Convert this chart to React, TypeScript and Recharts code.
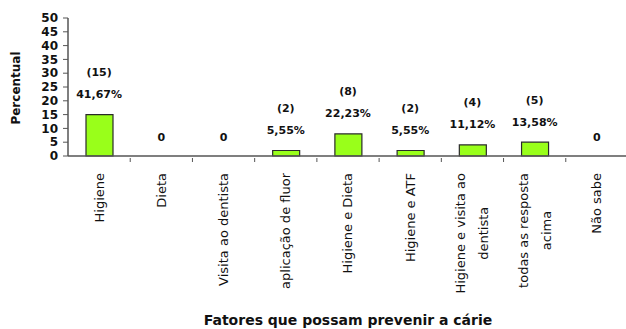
import React from "react";
import { ComposedChart, Bar, Line, XAxis, YAxis, LabelList } from "recharts";

// Categories (tick labels split into lines as they are printed under the axis)
const categories = [
  "Higiene",
  "Dieta",
  "Visita ao dentista",
  "aplicação de fluor",
  "Higiene e Dieta",
  "Higiene e ATF",
  "Higiene e visita ao dentista",
  "todas as resposta acima",
  "Não sabe",
];
const tickLines: string[][] = [
  ["Higiene"],
  ["Dieta"],
  ["Visita ao dentista"],
  ["aplicação de fluor"],
  ["Higiene e Dieta"],
  ["Higiene e ATF"],
  ["Higiene e visita ao", "dentista"],
  ["todas as resposta", "acima"],
  ["Não sabe"],
];
// Number of answers per category
const counts = [15, 0, 0, 2, 8, 2, 4, 5, 0];
// Percent labels printed above each bar
const percents = ["41,67%", "", "", "5,55%", "22,23%", "5,55%", "11,12%", "13,58%", ""];
const yTicks = [0, 5, 10, 15, 20, 25, 30, 35, 40, 45, 50];

const data = categories.map((name, i) => ({
  name,
  count: counts[i],
  pct: percents[i],
}));

const FONT = "'DejaVu Sans', Verdana, sans-serif";
const CHART_W = 628;
const CHART_H = 329;
const MARGIN = { top: 18, right: 0, left: 0, bottom: 0 };
const Y_AXIS_W = 68;
const PLOT_W = CHART_W - MARGIN.left - MARGIN.right - Y_AXIS_W;
const BAND = PLOT_W / categories.length;
const TICK_FONT_SIZE = 13;
const LINE_GAP = 23;

let measureCtx: CanvasRenderingContext2D | null = null;
function textWidth(s: string, size: number): number {
  if (!measureCtx) {
    const c = document.createElement("canvas");
    measureCtx = c.getContext("2d");
  }
  if (!measureCtx) return s.length * size * 0.55;
  measureCtx.font = `${size}px 'DejaVu Sans'`;
  return measureCtx.measureText(s).width;
}

// Vertical category label, centred lines, with a small tick mark at the band edge
const CategoryTick = (props: any) => {
  const { x, y, payload, index } = props;
  const lines: string[] = tickLines[index] ?? [String(payload.value)];
  const top = y + 9;
  const maxW = Math.max(...lines.map((l) => textWidth(l, TICK_FONT_SIZE)));
  const cy = top + maxW / 2;
  const n = lines.length;
  return (
    <g>
      {index < categories.length - 1 && (
        <line x1={x + BAND / 2} x2={x + BAND / 2} y1={y - 6} y2={y - 2} stroke="#555" strokeWidth={1} />
      )}
      {lines.map((l, i) => {
        const lx = x + (i - (n - 1) / 2) * LINE_GAP;
        return (
          <text
            key={i}
            x={lx}
            y={cy}
            transform={`rotate(-90, ${lx}, ${cy})`}
            textAnchor="middle"
            dominantBaseline="central"
            fontFamily={FONT}
            fontSize={TICK_FONT_SIZE}
            fill="#111"
          >
            {l}
          </text>
        );
      })}
    </g>
  );
};

// Count and percentage printed above each bar, "0" for empty categories
const BarLabel = (props: any) => {
  const { x, y, index } = props;
  const d = data[index];
  if (!d) return null;
  const style = {
    fontFamily: FONT,
    fontSize: 11,
    fontWeight: 700 as const,
    fill: "#111",
  };
  if (d.count === 0) {
    return (
      <text x={x} y={y - 19} textAnchor="middle" dominantBaseline="central" {...style}>
        0
      </text>
    );
  }
  return (
    <g>
      <text x={x} y={y - 42} textAnchor="middle" dominantBaseline="central" {...style}>
        {`(${d.count})`}
      </text>
      <text x={x} y={y - 20} textAnchor="middle" dominantBaseline="central" {...style}>
        {d.pct}
      </text>
    </g>
  );
};

export default function App() {
  return (
    <div
      style={{
        position: "absolute",
        left: 0,
        top: 0,
        width: 626,
        height: CHART_H,
        overflow: "hidden",
        background: "#fff",
      }}
    >
      <ComposedChart width={CHART_W} height={CHART_H} data={data} margin={MARGIN} barSize={27}>
        <XAxis
          dataKey="name"
          interval={0}
          height={CHART_H - MARGIN.top - 138}
          tickLine={false}
          axisLine={{ stroke: "#555", strokeWidth: 1.5 }}
          tick={<CategoryTick />}
        />
        <YAxis
          domain={[0, 50]}
          ticks={yTicks}
          interval={0}
          width={Y_AXIS_W}
          tickSize={5}
          tickMargin={5}
          axisLine={{ stroke: "#555", strokeWidth: 1.5 }}
          tickLine={{ stroke: "#555" }}
          tick={{ fontFamily: FONT, fontSize: 12, fontWeight: 700, fill: "#111" }}
        />
        <Bar dataKey="count" fill="#99ff1a" stroke="#2a2a2a" strokeWidth={1.2} isAnimationActive={false} />
        {/* invisible series carrying the value labels, one per category */}
        <Line
          dataKey="count"
          stroke="none"
          dot={false}
          activeDot={false}
          legendType="none"
          isAnimationActive={false}
        >
          <LabelList dataKey="count" content={<BarLabel />} />
        </Line>
        <text
          x={16}
          y={88}
          transform="rotate(-90, 16, 88)"
          textAnchor="middle"
          dominantBaseline="central"
          fontFamily={FONT}
          fontSize={12}
          fontWeight={700}
          fill="#111"
        >
          Percentual
        </text>
        <text
          x={MARGIN.left + Y_AXIS_W + PLOT_W / 2}
          y={320}
          textAnchor="middle"
          dominantBaseline="central"
          fontFamily={FONT}
          fontSize={14}
          fontWeight={700}
          fill="#111"
        >
          Fatores que possam prevenir a cárie
        </text>
      </ComposedChart>
    </div>
  );
}
